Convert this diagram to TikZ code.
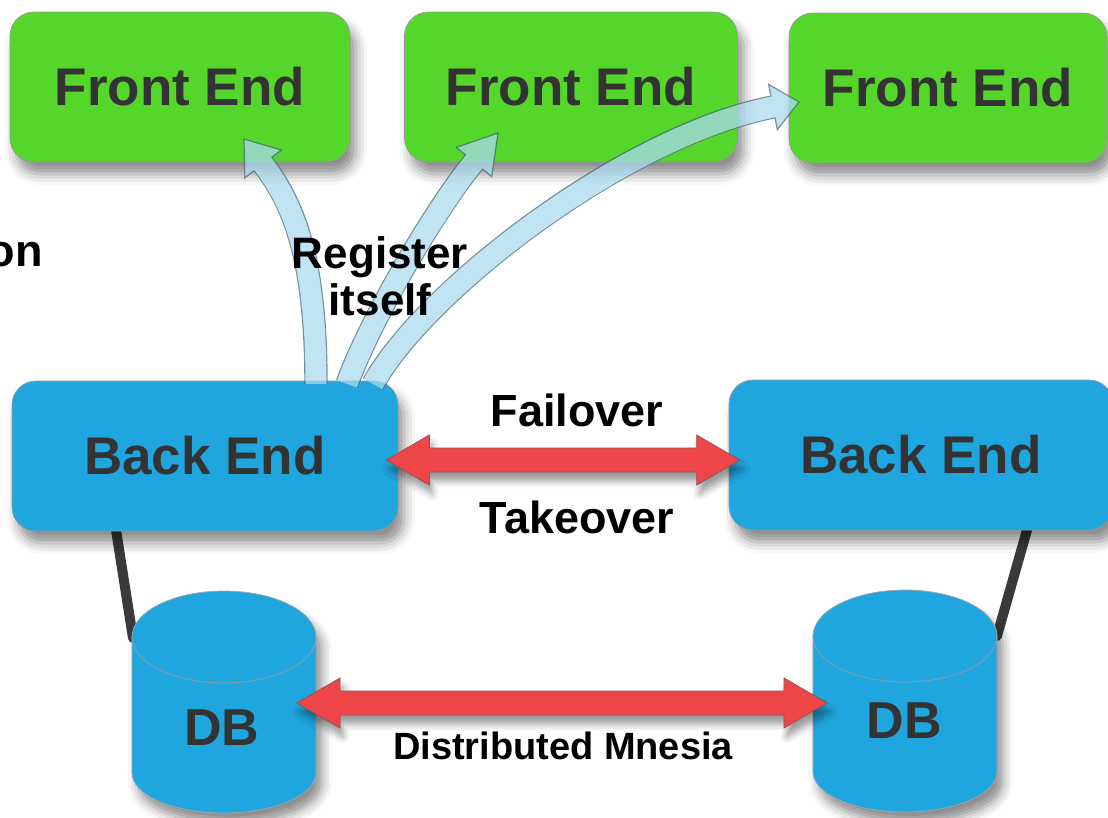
\documentclass[tikz,border=0pt]{standalone}
\usepackage{fontspec}
\setmainfont{Liberation Sans}
\usetikzlibrary{calc,shadows.blur}
\definecolor{fegreen}{RGB}{84,214,42}
\definecolor{beblue}{RGB}{32,166,222}
\definecolor{txtgray}{RGB}{51,51,51}
\definecolor{redarr}{RGB}{238,70,72}
\definecolor{redline}{RGB}{150,80,80}
\definecolor{regfill}{RGB}{170,218,238}
\definecolor{regline}{RGB}{70,105,125}
\definecolor{connline}{RGB}{58,58,58}
\newcommand\regarrow[5]{%
  \begin{scope}[transparency group, opacity=0.74]
    \fill[regfill, draw=regline, line width=1.2pt, line join=miter]
      ($(#4)!23pt!90:(#5)$) -- (#5) -- ($(#4)!23pt!-90:(#5)$) -- cycle;
    \draw[regline, line width=23.4pt] (#1) .. controls (#2) and (#3) .. (#4);
    \draw[regfill, line width=21pt] (#1) .. controls (#2) and (#3) .. ($(#4)!2pt!(#5)$);
  \end{scope}}
\newcommand\dblarrow[2]{%
  \fill[redarr, draw=redline, line width=0.8pt,
        blur shadow={shadow xshift=3pt, shadow yshift=-9pt, shadow blur radius=7pt, shadow opacity=40}]
    (#1) -- ($(#1)+(43,25)$) -- ($(#1)+(43,12)$) -- ($(#2)+(-43,12)$) -- ($(#2)+(-43,25)$) -- (#2)
    -- ($(#2)+(-43,-25)$) -- ($(#2)+(-43,-12)$) -- ($(#1)+(43,-12)$) -- ($(#1)+(43,-25)$) -- cycle;}
\newcommand\dbcyl[1]{%
  \path[fill=beblue, draw=black!35, line width=0.7pt,
        blur shadow={shadow xshift=6pt, shadow yshift=-11pt, shadow blur radius=10pt, shadow opacity=45}]
    ($(#1)+(-92,0)$) -- ($(#1)+(-92,-136)$)
    arc[start angle=180, end angle=360, x radius=92pt, y radius=40pt]
    -- ($(#1)+(92,0)$)
    arc[start angle=0, end angle=180, x radius=92pt, y radius=46pt] -- cycle;
  \draw[black!40, line width=0.7pt] ($(#1)+(-92,0)$)
    arc[start angle=180, end angle=360, x radius=92pt, y radius=46pt];}
\begin{document}
\begin{tikzpicture}[x=1pt, y=1pt,
  box/.style={rounded corners=24pt, draw=black!40, line width=0.7pt,
    minimum height=150pt, inner sep=0pt,
    font=\fontsize{53}{60}\selectfont\bfseries, text=txtgray,
    blur shadow={shadow xshift=6pt, shadow yshift=-12pt, shadow blur radius=11pt, shadow opacity=45}},
  febox/.style={box, fill=fegreen},
  bebox/.style={box, fill=beblue},
  dbtext/.style={font=\fontsize{52}{60}\selectfont\bfseries, text=txtgray, inner sep=0pt},
  lbl/.style={font=\fontsize{45}{48}\selectfont\bfseries, text=black, inner sep=0pt},
  conn/.style={connline, line width=10pt, line cap=round}
]
\useasboundingbox (0,0) rectangle (1108,-817);

% connectors back end -- db
\coordinate (db1top) at (224,-637);
\coordinate (db2top) at (905,-636);
\coordinate (be1foot) at (116,-530);
\coordinate (be2foot) at (1027,-530);
\coordinate (db1join) at (133,-638);
\coordinate (db2join) at (997,-636);
\draw[conn] (be1foot) -- (db1join);
\draw[conn] (be2foot) -- (db2join);

% front ends
\node[febox, minimum width=340pt] (fe1) at (180,-87) {Front End};
\node[febox, minimum width=333pt] (fe2) at (571,-87) {Front End};
\node[febox, minimum width=318pt] (fe3) at (948,-88) {Front End};

% back ends
\node[bebox, minimum width=386pt] (be1) at (205,-456) {Back End};
\node[bebox, minimum width=384pt] (be2) at (921,-455) {Back End};

% databases
\dbcyl{db1top}
\dbcyl{db2top}
\node[dbtext] (db1) at (222,-728) {DB};
\node[dbtext] (db2) at (904,-721) {DB};

% register arrows
\coordinate (s1) at (316,-384);
\coordinate (c11) at (316,-250);
\coordinate (b1) at (263,-164);
\coordinate (t1) at (244,-139);
\coordinate (c12) at ($(b1)!-45pt!(t1)$);
\regarrow{s1}{c11}{c12}{b1}{t1}

\coordinate (s2) at (347,-384);
\coordinate (c21) at (370,-320);
\coordinate (b2) at (474,-162);
\coordinate (t2) at (498,-133);
\coordinate (c22) at ($(b2)!-60pt!(t2)$);
\regarrow{s2}{c21}{c22}{b2}{t2}

\coordinate (s3) at (373,-384);
\coordinate (c31) at (425,-290);
\coordinate (b3) at (773,-107);
\coordinate (t3) at (799,-102);
\coordinate (c32) at ($(b3)!-150pt!(t3)$);
\regarrow{s3}{c31}{c32}{b3}{t3}

% red double arrows
\coordinate (fL) at ($(be1.east)+(-12,-4)$);
\coordinate (fR) at ($(be2.west)+(11,-5)$);
\dblarrow{fL}{fR}
\coordinate (mL) at (297,-703);
\coordinate (mR) at (827,-703);
\dblarrow{mL}{mR}

% labels
\node[lbl] (failover) at (577,-410) {Failover};
\node[lbl] (takeover) at (577,-517) {Takeover};
\node[lbl, font=\fontsize{38}{42}\selectfont\bfseries] (mnesia) at (563,-746) {Distributed Mnesia};
\node[lbl, align=center, font=\fontsize{44}{47}\selectfont\bfseries] (register) at (380,-276) {Register\\itself};
\node[lbl, anchor=east] (on) at (43,-255) {on};
\end{tikzpicture}
\end{document}
